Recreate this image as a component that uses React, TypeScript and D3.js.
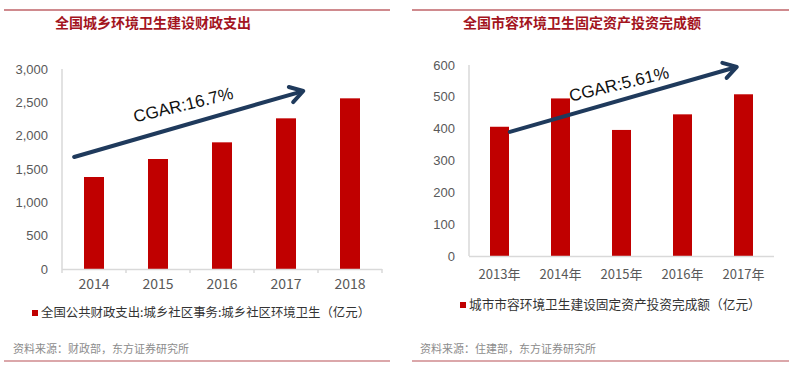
import React from "react";
import * as d3 from "d3";

// left panel: 全国城乡环境卫生建设财政支出
const leftYears = ["2014", "2015", "2016", "2017", "2018"];
const leftValues = [1380, 1650, 1900, 2260, 2560];
const leftTicks = [0, 500, 1000, 1500, 2000, 2500, 3000];

// right panel: 全国市容环境卫生固定资产投资完成额
const rightYears = ["2013年", "2014年", "2015年", "2016年", "2017年"];
const rightValues = [406, 495, 396, 445, 508];
const rightTicks = [0, 100, 200, 300, 400, 500, 600];

// trend arrows, in (category index, value) units
const leftArrow = { from: [-0.31, 1680], to: [3.27, 2670], label: "CGAR:16.7%" };
const rightArrow = { from: [0.17, 390], to: [3.89, 594], label: "CGAR:5.61%" };

const CJK = "'Noto Sans CJK SC', 'Liberation Sans', Arial, sans-serif";
const LATIN = "'Liberation Sans', Arial, sans-serif";
const RED = "#c00000";
const NAVY = "#1f3a5c";
const AXIS = "#d9d9d9";

type PanelProps = {
  lineX: [number, number];
  title: string;
  titleX: number;
  cats: string[];
  values: number[];
  ticks: number[];
  yMax: number;
  xRange: [number, number];
  yRange: [number, number];
  barW: number;
  xLabelY: number;
  xFont: number;
  tickMarks: boolean;
  arrow: { from: number[]; to: number[]; label: string };
  labelOffset: number;
  legend: string;
  legendX: number;
  legendY: number;
  legendFont: number;
  source: string;
  sourceX: number;
};

const Panel = (p: PanelProps) => {
  const x = d3.scaleBand<string>().domain(p.cats).range(p.xRange).padding(0);
  const y = d3.scaleLinear().domain([0, p.yMax]).range(p.yRange);
  const xi = d3
    .scaleLinear()
    .domain([-0.5, p.cats.length - 0.5])
    .range(p.xRange);

  const x0 = xi(p.arrow.from[0]);
  const y0 = y(p.arrow.from[1]);
  const x1 = xi(p.arrow.to[0]);
  const y1 = y(p.arrow.to[1]);
  const ang = Math.atan2(y1 - y0, x1 - x0);
  const deg = (ang * 180) / Math.PI;
  const head = 15;
  const spread = 0.55;
  const h1 = [x1 - head * Math.cos(ang - spread), y1 - head * Math.sin(ang - spread)];
  const h2 = [x1 - head * Math.cos(ang + spread), y1 - head * Math.sin(ang + spread)];
  const mx = (x0 + x1) / 2 - p.labelOffset * Math.sin(-ang);
  const my = (y0 + y1) / 2 - p.labelOffset * Math.cos(ang);

  const bottom = p.yRange[0];

  return (
    <g>
      <line x1={p.lineX[0]} x2={p.lineX[1]} y1={10} y2={10} stroke="#cf8a8e" strokeWidth={2} />
      <text x={p.titleX} y={28} fontFamily={CJK} fontSize={14} fontWeight="bold" fill="#a3141e">
        {p.title}
      </text>

      {/* y axis */}
      <line x1={p.xRange[0]} x2={p.xRange[0]} y1={y(p.yMax)} y2={bottom} stroke={AXIS} strokeWidth={1.5} />
      {p.ticks.map((t) => (
        <text
          key={t}
          x={p.xRange[0] - 14}
          y={y(t)}
          dy="0.35em"
          textAnchor="end"
          fontFamily={LATIN}
          fontSize={13}
          fill="#595959"
        >
          {d3.format(",")(t)}
        </text>
      ))}

      {/* bars */}
      {p.cats.map((c, i) => (
        <rect
          key={c}
          x={(x(c) as number) + x.bandwidth() / 2 - p.barW / 2}
          y={y(p.values[i])}
          width={p.barW}
          height={bottom - y(p.values[i])}
          fill={RED}
        />
      ))}

      {/* x axis */}
      <line x1={p.xRange[0]} x2={p.xRange[1]} y1={bottom + 0.5} y2={bottom + 0.5} stroke={AXIS} strokeWidth={1.5} />
      {p.tickMarks &&
        d3.range(p.cats.length + 1).map((i) => {
          const tx = p.xRange[0] + i * x.step();
          return <line key={i} x1={tx} x2={tx} y1={bottom} y2={bottom + 4} stroke={AXIS} strokeWidth={1.5} />;
        })}
      {p.cats.map((c) => (
        <text
          key={c}
          x={(x(c) as number) + x.bandwidth() / 2}
          y={p.xLabelY}
          textAnchor="middle"
          fontFamily={CJK}
          fontSize={p.xFont}
          fill="#595959"
        >
          {c}
        </text>
      ))}

      {/* trend arrow */}
      <g stroke={NAVY} strokeWidth={4} strokeLinecap="round" strokeLinejoin="round" fill="none">
        <line x1={x0} y1={y0} x2={x1 - 2 * Math.cos(ang)} y2={y1 - 2 * Math.sin(ang)} />
        <polyline points={`${h1[0]},${h1[1]} ${x1},${y1} ${h2[0]},${h2[1]}`} />
      </g>
      <text
        x={mx}
        y={my}
        transform={`rotate(${deg * 0.85},${mx},${my})`}
        textAnchor="middle"
        dy="0.35em"
        fontFamily={LATIN}
        fontSize={17}
        fill="#111"
      >
        {p.arrow.label}
      </text>

      {/* legend */}
      <rect x={p.legendX} y={p.legendY - 3} width={6} height={6} fill={RED} />
      <text x={p.legendX + 9} y={p.legendY} dy="0.35em" fontFamily={CJK} fontSize={p.legendFont} fill="#333">
        {p.legend}
      </text>

      {/* source */}
      <text x={p.sourceX} y={349} dy="0.35em" fontFamily={CJK} fontSize={11} fill="#8c8c8c">
        {p.source}
      </text>
      <line x1={p.lineX[0]} x2={p.lineX[1]} y1={361} y2={361} stroke="#cf8a8e" strokeWidth={1.5} />
    </g>
  );
};

const App = () => {
  return (
    <svg
      width={800}
      height={368}
      style={{ position: "absolute", left: 0, top: 0, background: "#fff" }}
    >
      <Panel
        lineX={[4, 390]}
        title="全国城乡环境卫生建设财政支出"
        titleX={55}
        cats={leftYears}
        values={leftValues}
        ticks={leftTicks}
        yMax={3000}
        xRange={[62, 382]}
        yRange={[269, 69]}
        barW={20}
        xLabelY={289}
        xFont={14}
        tickMarks={true}
        arrow={leftArrow}
        labelOffset={20}
        legend="全国公共财政支出:城乡社区事务:城乡社区环境卫生（亿元）"
        legendX={32}
        legendY={313}
        legendFont={12.4}
        source="资料来源：财政部，东方证券研究所"
        sourceX={13}
      />
      <Panel
        lineX={[412, 789]}
        title="全国市容环境卫生固定资产投资完成额"
        titleX={463}
        cats={rightYears}
        values={rightValues}
        ticks={rightTicks}
        yMax={600}
        xRange={[469, 774]}
        yRange={[256, 65]}
        barW={19}
        xLabelY={279}
        xFont={13}
        tickMarks={false}
        arrow={rightArrow}
        labelOffset={16}
        legend="城市市容环境卫生建设固定资产投资完成额（亿元）"
        legendX={460}
        legendY={305}
        legendFont={12.7}
        source="资料来源：住建部，东方证券研究所"
        sourceX={420}
      />
    </svg>
  );
};

export default App;
